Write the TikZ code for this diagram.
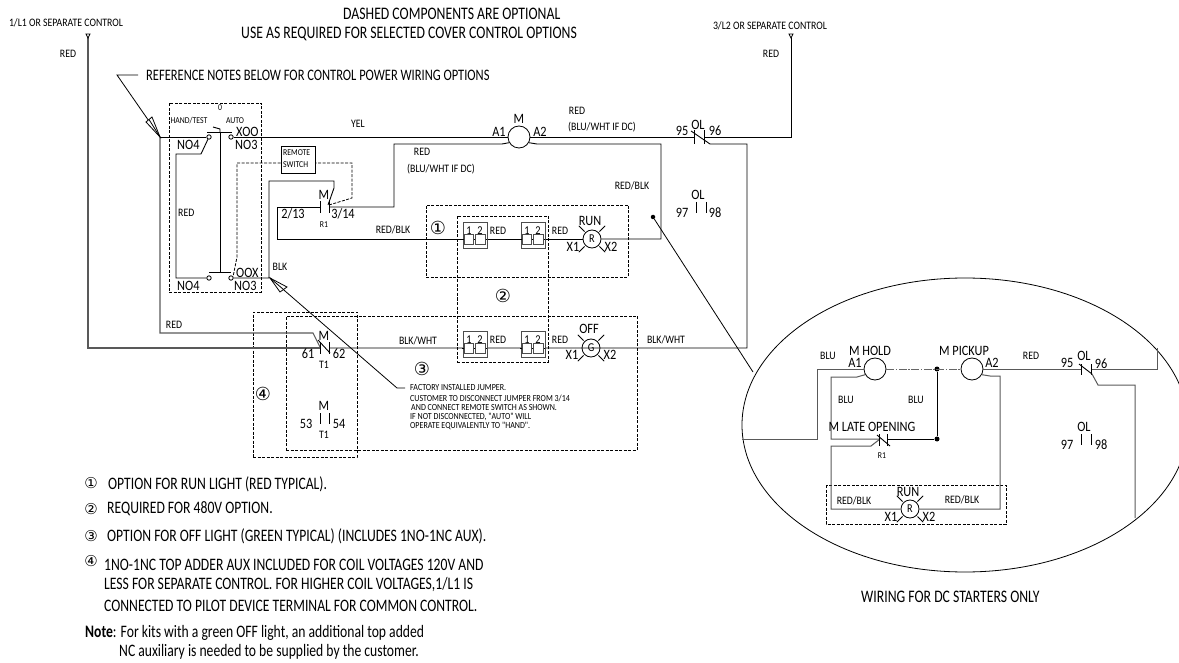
\documentclass[tikz,border=0pt]{standalone}
\usepackage{fontspec}
\setmainfont{Carlito}
\newfontfamily\cond[FakeStretch=0.86]{Carlito}
\newfontfamily\condn[FakeStretch=0.78]{Carlito}
\newfontfamily\circf{DejaVu Sans}
\usetikzlibrary{calc}
\tikzset{
  wire/.style={draw=black,line width=0.9pt},
  gwire/.style={draw=black!65,line width=1.1pt},
  thin wire/.style={draw=black,line width=0.8pt},
  opt/.style={draw=black,line width=0.8pt,dash pattern=on 3pt off 1.5pt},
  coil/.style={circle,draw=black,line width=0.8pt,fill=white,minimum size=22pt,inner sep=0pt},
  lamp/.style={circle,draw=black,line width=0.8pt,fill=white,minimum size=18pt,inner sep=0pt,font=\cond\fontsize{12}{12}\selectfont},
  term/.style={draw=black!70,line width=0.8pt,fill=white,minimum width=9.5pt,minimum height=9.5pt,inner sep=0pt},
  contact/.style={circle,draw=black,line width=0.8pt,fill=white,minimum size=4.4pt,inner sep=0pt},
  jdot/.style={circle,fill=black,minimum size=5pt,inner sep=0pt},
  tri/.style={draw=black,line width=0.7pt,fill=white},
  lb/.style={inner sep=0pt,font=\cond\fontsize{11.4}{11.4}\selectfont},
  lm/.style={inner sep=0pt,font=\cond\fontsize{14.3}{14.3}\selectfont},
  ls/.style={inner sep=0pt,font=\cond\fontsize{9}{9}\selectfont},
  lf/.style={inner sep=0pt,anchor=west,font=\cond\fontsize{9.3}{9.3}\selectfont},
  ln/.style={inner sep=0pt,anchor=west,font=\condn\fontsize{17.5}{17.5}\selectfont},
  lt/.style={inner sep=0pt,anchor=west,font=\condn\fontsize{17.6}{17.6}\selectfont},
  lc/.style={inner sep=0pt,font=\circf\fontsize{18}{18}\selectfont},
  lcs/.style={inner sep=0pt,font=\circf\fontsize{15}{15}\selectfont},
}
\newcommand{\lampwires}[1]{%
  \foreach \a in {45,135,225,315}{\draw[thin wire] (#1.\a) ++(\a:1.2pt) -- ++(\a:8pt);}}
\begin{document}
\begin{tikzpicture}[x=1pt,y=-1pt]
\useasboundingbox (0,0) rectangle (1179,663);
% ---- named components
\node[coil] (coilM) at (519,137) {};
\node[lamp] (lampRun) at (592,239) {R};
\node[lamp] (lampOff) at (591,348) {G};
\node[draw=black,line width=0.9pt,minimum width=34pt,minimum height=27pt,inner sep=0pt] (remote) at (298,159.5) {};
\node[contact] (c1) at (209,137) {};
\node[contact] (c2) at (231,137) {};
\node[contact] (c3) at (209,278) {};
\node[contact] (c4) at (231,278) {};
\coordinate (supL) at (88,37);
\coordinate (supR) at (791,37);
\coordinate (nodeA) at (160,137);
% ---- dashed boxes
\node[opt,minimum width=92pt,minimum height=189pt,inner sep=0pt] (boxSw) at (215,197.5) {};
\node[opt,minimum width=202pt,minimum height=72pt,inner sep=0pt] (boxRun) at (527,241) {};
\node[opt,minimum width=91pt,minimum height=146pt,inner sep=0pt] (box480) at (502.5,289) {};
\node[opt,minimum width=351pt,minimum height=134pt,inner sep=0pt] (boxOff) at (461.5,383) {};
\node[opt,minimum width=104pt,minimum height=145pt,inner sep=0pt] (boxAux) at (305,384.5) {};
% ---- supply wires
\draw[gwire] (supL) -- (88,348) -- (320,348);
\draw[wire] (supR) -- (791,137) -- (704,137);
\draw[gwire] (nodeA) -- (160,333) -- (313,333) -- (320,347);
\draw[tri] (88,38) -- (86,34) -- (90,34) -- cycle;
\draw[tri] (791,38) -- (789,34) -- (793,34) -- cycle;
% ---- main wires
\draw[wire] (nodeA) -- (c1);
\draw[wire] (c2) -- (coilM.west |- c2);
\draw[wire] (coilM.east) -- (694,137);
% contact OL 95-96
\draw[wire] (694,130) -- (694,144);
\draw[wire] (704,130) -- (704,144);
\draw[wire] (691,131) -- (710,144) -- (747,144) -- (747,348) -- (329,348);
% second line from coil
\draw[wire] (coilM.210) -- (502,144) -- (394,144) -- (394,207) -- (329,207);
\draw[wire] (coilM.330) -- (537,144) -- (661,144) -- (661,239) -- (lampRun.east);
\draw[wire] (lampRun.west) -- (277,239) -- (277,207) -- (320,207);
\draw[wire] (320,201) -- (320,213);
\draw[wire] (329,201) -- (329,213);
% BLK jumper
\draw[wire] (c4) -- (269,278) -- (269,181) -- (334,181) -- (334,188) -- (328,205);
% switch
\draw[wire] (207,132) -- (232,132);
\draw[wire] (209,272) -- (231,272);
\draw[wire] (220,132) -- (220,272);
\draw[wire] (213,127) -- (220,129) -- (220,132);
\draw[wire] (c1) -- (201,154) -- (176,154) -- (176,278) -- (c3);
% remote dashed
\draw[opt] (329,205) -- (352,198) -- (352,163) -- (remote.east |- 0,163);
\draw[opt] (remote.west |- 0,163) -- (237,163) -- (237,257) -- (233,277);
% off contacts
\draw[wire] (320,342) -- (320,354);
\draw[wire] (329,342) -- (329,354);
\draw[wire] (318,340) -- (330,353);
\draw[wire] (320,413) -- (320,424);
\draw[wire] (329,413) -- (329,424);
% OL NO
\draw[wire] (696,202) -- (696,213);
\draw[wire] (706,202) -- (706,213);
% terminals
\foreach \nm/\cx/\cy in {a/475/235,b/533/235,c/475/344,d/533/344}{
  \node[draw=black!70,line width=0.9pt,fill=white,minimum width=24pt,minimum height=26pt,inner sep=0pt] (tb\nm) at (\cx,\cy) {};
  \node[term] (tb\nm1) at (\cx-6,\cy+4.5) {};
  \node[term] (tb\nm2) at (\cx+5.5,\cy+4.5) {};
  \draw[wire] (tb\nm1.east) -- (tb\nm2.west);
  \draw[wire] ($(tb\nm1.west)+(-1.5,0)$) -- (tb\nm1.west);
  \draw[wire] ($(tb\nm2.east)+(1.5,0)$) -- (tb\nm2.east);
  \node[lb,font=\cond\fontsize{12}{12}\selectfont] (tl\nm1) at (\cx-6,\cy-4.5) {1};
  \node[lb,font=\cond\fontsize{12}{12}\selectfont] (tl\nm2) at (\cx+5,\cy-4.5) {2};
}
% lamp rays
\lampwires{lampRun}
\lampwires{lampOff}
% pointers
\coordinate (pa) at (117,75);
\draw[thin wire] (138,75) -- (pa) -- (nodeA);
\draw[thin wire,fill=white] (nodeA) -- (146,122) -- (152,117) -- cycle;
\draw[thin wire] (149,119.5) -- (nodeA);
\coordinate (pb) at (397,388);
\draw[thin wire] (405,388) -- (pb) -- (270,278);
\draw[thin wire,fill=white] (270,278) -- (280,292) -- (287,287) -- cycle;
\draw[thin wire] (283.5,289.5) -- (270,278);
% jump to inset
\node[jdot,minimum size=4.5pt] (dotL) at (653,217) {};
\coordinate (ins) at (753,372);
\draw[thin wire] (dotL) -- (ins);
% ---- inset
\draw[thin wire] (965,425) ellipse [x radius=223,y radius=147];
\node[coil] (coilH) at (875,369) {};
\node[coil] (coilP) at (972,369) {};
\node[jdot] (j1) at (937,369) {};
\node[jdot] (j2) at (937,439) {};
\node[lamp] (lampI) at (910,509) {R};
\draw[opt,line width=0.8pt] (826,485) rectangle (1006,524);
\draw[gwire,line width=1pt] (742,439) -- (817,439) -- (817,369) -- (coilH.west);
\draw[gwire,line width=1pt] (coilH.210) -- (857,377) -- (831,377) -- (831,439) -- (879,439);
\draw[wire] (887,439) -- (j2) -- (j1);
\draw[draw=black!60,line width=0.9pt,dash pattern=on 8pt off 1.5pt on 1.5pt off 1.5pt] (coilH.east) -- (coilP.west);
\draw[gwire,line width=1pt] (coilP.east) -- (1081,369);
\draw[gwire,line width=1pt] (1091,369) -- (1157,369) -- (1157,348);
\draw[gwire,line width=1pt] (coilP.330) -- (990,376) -- (1000,376) -- (1000,509) -- (lampI.east);
\draw[gwire,line width=1pt] (lampI.west) -- (831,509) -- (831,446) -- (871,446) -- (880,439);
\draw[wire] (879,434) -- (879,446);
\draw[wire] (887,434) -- (887,446);
\draw[wire] (877,435) -- (890,446);
\draw[wire] (1081,364) -- (1081,375);
\draw[wire] (1091,364) -- (1091,375);
\draw[wire] (1079,364) -- (1092,374);
\draw[gwire,line width=1pt] (1092,374) -- (1098,385) -- (1135,385) -- (1135,518);
\draw[wire] (1081,434) -- (1081,445);
\draw[wire] (1091,434) -- (1091,445);
\lampwires{lampI}
% ---- labels, main
\node[lt] (h1) at (343,14) {DASHED COMPONENTS ARE OPTIONAL};
\node[lt] (h2) at (241,34) {USE AS REQUIRED FOR SELECTED COVER CONTROL OPTIONS};
\node[lb] (t1) at (66,23) {1/L1 OR SEPARATE CONTROL};
\node[lb] (t2) at (68,54) {RED};
\node[lb] (t3) at (770,26) {3/L2 OR SEPARATE CONTROL};
\node[lb] (t4) at (771,54) {RED};
\node[inner sep=0pt,anchor=west,font=\condn\fontsize{16}{16}\selectfont] (t5) at (146,75) {REFERENCE NOTES BELOW FOR CONTROL POWER WIRING OPTIONS};
\node[ls] (t6) at (220,108) {0};
\node[ls] (t7) at (189,121) {HAND/TEST};
\node[ls] (t8) at (235,121) {AUTO};
\foreach \n/\x/\y/\s in {x1/236/132/XOO,x2/235/145/NO3,x3/177/145/NO4,x4/236/273/OOX,x5/177/286/NO4,x6/234/286/NO3}{
  \node[lm,anchor=west] (\n) at (\x,\y) {\s};}
\node[lb,anchor=west] (t9) at (178,213) {RED};
\node[lb] (t10) at (358,124) {YEL};
\node[ls,anchor=west] (t11) at (283,153) {REMOTE};
\node[ls,anchor=west] (t12) at (283,165) {SWITCH};
\node[lm] (t13) at (324,195) {M};
\node[lm] (t14) at (293,214) {2/13};
\node[lm] (t15) at (343,214) {3/14};
\node[ls] (t16) at (324,225) {R1};
\node[lb] (t17) at (393,230) {RED/BLK};
\node[lb] (t18) at (280,267) {BLK};
\node[lb] (t19) at (422,152) {RED};
\node[lb] (t20) at (441,169) {(BLU/WHT IF DC)};
\node[lm] (t21) at (519,119) {M};
\node[lm] (t22) at (499,132) {A1};
\node[lm] (t23) at (540,132) {A2};
\node[lb] (t24) at (577,111) {RED};
\node[lb] (t25) at (602,127) {(BLU/WHT IF DC)};
\node[lm] (t26) at (682,131) {95};
\node[lm] (t27) at (698,125) {OL};
\node[lm] (t28) at (715,131) {96};
\node[lb] (t29) at (632,186) {RED/BLK};
\node[lm] (t30) at (698,195) {OL};
\node[lm] (t31) at (682,213) {97};
\node[lm] (t32) at (715,213) {98};
\node[lc] (t33) at (438,228) {①};
\node[lb] (t34) at (498,231) {RED};
\node[lb] (t35) at (560,231) {RED};
\node[lm] (t36) at (590,221) {RUN};
\node[lm] (t37) at (573,247) {X1};
\node[lm] (t38) at (611,247) {X2};
\node[lc] (t39) at (503,296) {②};
\node[lm] (t40) at (589,329) {OFF};
\node[lm] (t41) at (572,355) {X1};
\node[lm] (t42) at (610,355) {X2};
\node[lb] (t43) at (498,340) {RED};
\node[lb] (t44) at (560,340) {RED};
\node[lb] (t45) at (418,341) {BLK/WHT};
\node[lb] (t46) at (666,340) {BLK/WHT};
\node[lb] (t46b) at (174,325) {RED};
\node[lm] (t47) at (324,336) {M};
\node[lm] (t48) at (308,354) {61};
\node[lm] (t49) at (339,354) {62};
\node[lb] (t50) at (324,365) {T1};
\node[lm] (t51) at (324,406) {M};
\node[lm] (t52) at (306,424) {53};
\node[lm] (t53) at (339,424) {54};
\node[lb] (t54) at (324,435) {T1};
\node[lc] (t55) at (422,369) {③};
\node[lc] (t56) at (263,394) {④};
\node[lf] (f1) at (410,388) {FACTORY INSTALLED JUMPER.};
\node[lf] (f2) at (410,398) {CUSTOMER TO DISCONNECT JUMPER FROM 3/14};
\node[lf] (f3) at (411,408) {AND CONNECT REMOTE SWITCH AS SHOWN.};
\node[lf] (f4) at (410,417) {IF NOT DISCONNECTED, "AUTO" WILL};
\node[lf] (f5) at (410,426) {OPERATE EQUIVALENTLY TO "HAND".};
% ---- labels, inset
\node[lb] (i1) at (828,356) {BLU};
\node[lm] (i2) at (870,351) {M HOLD};
\node[lm] (i3) at (855,363) {A1};
\node[lm] (i4) at (964,351) {M PICKUP};
\node[lm] (i5) at (992,363) {A2};
\node[lb] (i6) at (1031,356) {RED};
\node[lm] (i7) at (1067,363) {95};
\node[lm] (i8) at (1084,356) {OL};
\node[lm] (i9) at (1101,364) {96};
\node[lb] (i10) at (846,400) {BLU};
\node[lb] (i11) at (916,400) {BLU};
\node[lm] (i12) at (872,427) {M LATE OPENING};
\node[ls] (i13) at (882,456) {R1};
\node[lm] (i14) at (1084,427) {OL};
\node[lm] (i15) at (1067,445) {97};
\node[lm] (i16) at (1101,445) {98};
\node[lm] (i17) at (908,492) {RUN};
\node[lb] (i18) at (854,501) {RED/BLK};
\node[lb] (i19) at (962,500) {RED/BLK};
\node[lm] (i20) at (891,517) {X1};
\node[lm] (i21) at (929,517) {X2};
\node[lt] (i22) at (861,597) {WIRING FOR DC STARTERS ONLY};
% ---- legend
\node[lcs] (n1) at (91,483) {①};
\node[ln] (n1t) at (108,484) {OPTION FOR RUN LIGHT (RED TYPICAL).};
\node[lcs] (n2) at (91,509) {②};
\node[ln] (n2t) at (107,509) {REQUIRED FOR 480V OPTION.};
\node[lcs] (n3) at (91,536) {③};
\node[ln] (n3t) at (107,536) {OPTION FOR OFF LIGHT (GREEN TYPICAL) (INCLUDES 1NO-1NC AUX).};
\node[lcs] (n4) at (91,561) {④};
\node[ln] (n4a) at (104,565) {1NO-1NC TOP ADDER AUX INCLUDED FOR COIL VOLTAGES 120V AND};
\node[ln] (n4b) at (104,585) {LESS FOR SEPARATE CONTROL. FOR HIGHER COIL VOLTAGES,1/L1 IS};
\node[ln] (n4c) at (104,606) {CONNECTED TO PILOT DEVICE TERMINAL FOR COMMON CONTROL.};
\node[ln] (n5) at (85,633) {\textbf{Note}: For kits with a green OFF light, an additional top added};
\node[ln] (n6) at (119,652) {NC auxiliary is needed to be supplied by the customer.};
\end{tikzpicture}
\end{document}
